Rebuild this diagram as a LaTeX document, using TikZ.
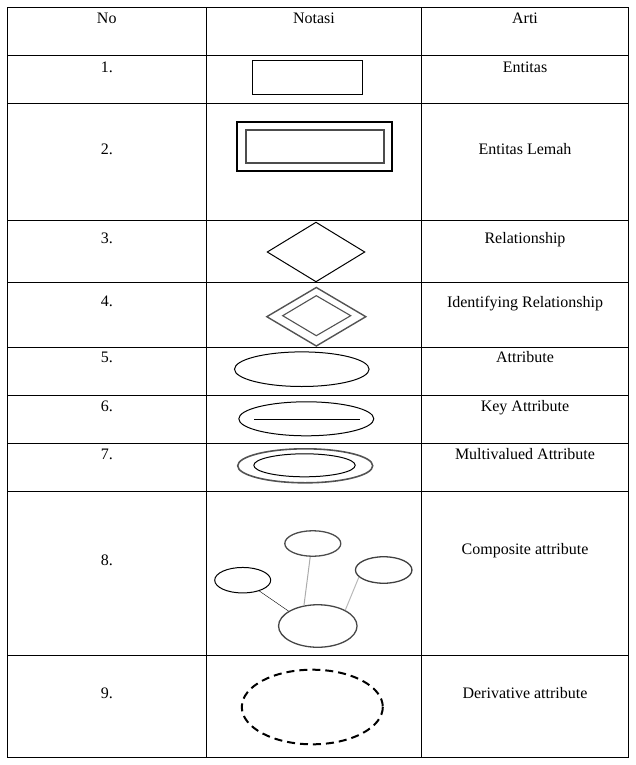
\documentclass[tikz,border=0pt]{standalone}
\usepackage{fontspec}
\setmainfont{Liberation Serif}
\usetikzlibrary{shapes.geometric}
\begin{document}
\begin{tikzpicture}[x=1pt,y=-1pt,
        teks/.style={anchor=base,font=\fontsize{16}{19}\selectfont},
        atribut/.style={draw,ellipse,inner sep=0pt,line width=1.3pt}]
        \useasboundingbox (0,0) rectangle (636,765);

        % garis tabel
        \draw[line width=1pt] (7,8) rectangle (628.5,757);
        \draw[line width=1pt] (206.5,8) -- (206.5,757);
        \draw[line width=1pt] (421.5,8) -- (421.5,757);
        \draw[line width=1pt] (7,56) -- (628.5,56);
        \draw[line width=1pt] (7,104) -- (628.5,104);
        \draw[line width=1pt] (7,220) -- (628.5,220);
        \draw[line width=1pt] (7,282.5) -- (628.5,282.5);
        \draw[line width=1pt] (7,347.5) -- (628.5,347.5);
        \draw[line width=1pt] (7,395) -- (628.5,395);
        \draw[line width=1pt] (7,443.5) -- (628.5,443.5);
        \draw[line width=1pt] (7,491.5) -- (628.5,491.5);
        \draw[line width=1pt] (7,655.5) -- (628.5,655.5);

        \node[teks] (no) at (106.75,23.5) {No};
        \node[teks] (notasi) at (314,23.5) {Notasi};
        \node[teks] (arti) at (525,23.5) {Arti};

        % 1. entitas
        \node[teks] (nomor1) at (106.75,72.5) {1.};
        \draw[line width=1pt] (252,61) rectangle (362,95);
        \node[teks] (arti1) at (525,72.5) {Entitas};

        % 2. entitas lemah
        \node[teks] (nomor2) at (106.75,154.5) {2.};
        \draw[line width=2pt] (237,122) rectangle (392,171);
        \draw[line width=1.3pt,draw=gray!60!black] (246,130) rectangle (384,163);
        \node[teks] (arti2) at (525,154.5) {Entitas Lemah};

        % 3. relationship
        \node[teks] (nomor3) at (106.75,243.5) {3.};
        \draw[line width=1pt] (267.3,252) -- (316,222.3) -- (364.7,252) -- (316,281.7) -- cycle;
        \node[teks] (arti3) at (525,243.5) {Relationship};

        % 4. identifying relationship
        \node[teks] (nomor4) at (106.75,306.5) {4.};
        \draw[line width=1.4pt,draw=gray!65!black] (266.8,316.7) -- (316.3,287.5) -- (365.8,316.7) -- (316.3,346) -- cycle;
        \draw[line width=1.1pt,draw=gray!65!black] (282.7,315.7) -- (316.3,295.7) -- (350.7,315.7) -- (316.3,335.7) -- cycle;
        \node[teks] (arti4) at (525,307) {Identifying Relationship};

        % 5. attribute
        \node[teks] (nomor5) at (106.75,362.5) {5.};
        \draw[line width=1pt] (301.8,369.2) ellipse [x radius=67.3, y radius=17.3];
        \node[teks] (arti5) at (525,362.5) {Attribute};

        % 6. key attribute
        \node[teks] (nomor6) at (106.75,411) {6.};
        \draw[line width=1pt] (306.3,418.8) ellipse [x radius=67.5, y radius=17];
        \draw[line width=1pt] (254.3,419.3) -- (359.7,419.3);
        \node[teks] (arti6) at (525,411) {Key Attribute};

        % 7. multivalued attribute
        \node[teks] (nomor7) at (106.75,459) {7.};
        \draw[line width=1.6pt,draw=gray!65!black] (305.2,465.8) ellipse [x radius=67.5, y radius=17];
        \draw[line width=1pt] (304.5,465.3) ellipse [x radius=50.7, y radius=11.5];
        \node[teks] (arti7) at (525,459) {Multivalued Attribute};

        % 8. composite attribute
        \node[teks] (nomor8) at (106.75,565) {8.};
        \node[atribut,draw=gray!60!black,minimum width=56pt,minimum height=25.5pt] (atas) at (312.8,543.5) {};
        \node[atribut,draw=black,line width=1pt,minimum width=56pt,minimum height=25.5pt] (kiri) at (242.7,580.2) {};
        \node[atribut,draw=gray!50!black,minimum width=56.5pt,minimum height=26.5pt] (kanan) at (383.7,570) {};
        \node[atribut,draw=gray!55!black,minimum width=78.5pt,minimum height=42.5pt] (induk) at (317.8,626) {};
        \draw (kiri.327) -- (induk.153);
        \draw[line width=1pt,gray!65] (atas.259) -- (induk.124);
        \draw[line width=1pt,gray!55] (kanan.196) -- (induk.30);
        \node[teks] (arti8) at (525,554.5) {Composite attribute};

        % 9. derivative attribute
        \node[teks] (nomor9) at (106.75,698) {9.};
        \draw[line width=2pt,dash pattern=on 8pt off 5pt] (312.3,707) ellipse [x radius=70.5, y radius=37.3];
        \node[teks] (arti9) at (525,698) {Derivative attribute};

    \end{tikzpicture}
\end{document}
